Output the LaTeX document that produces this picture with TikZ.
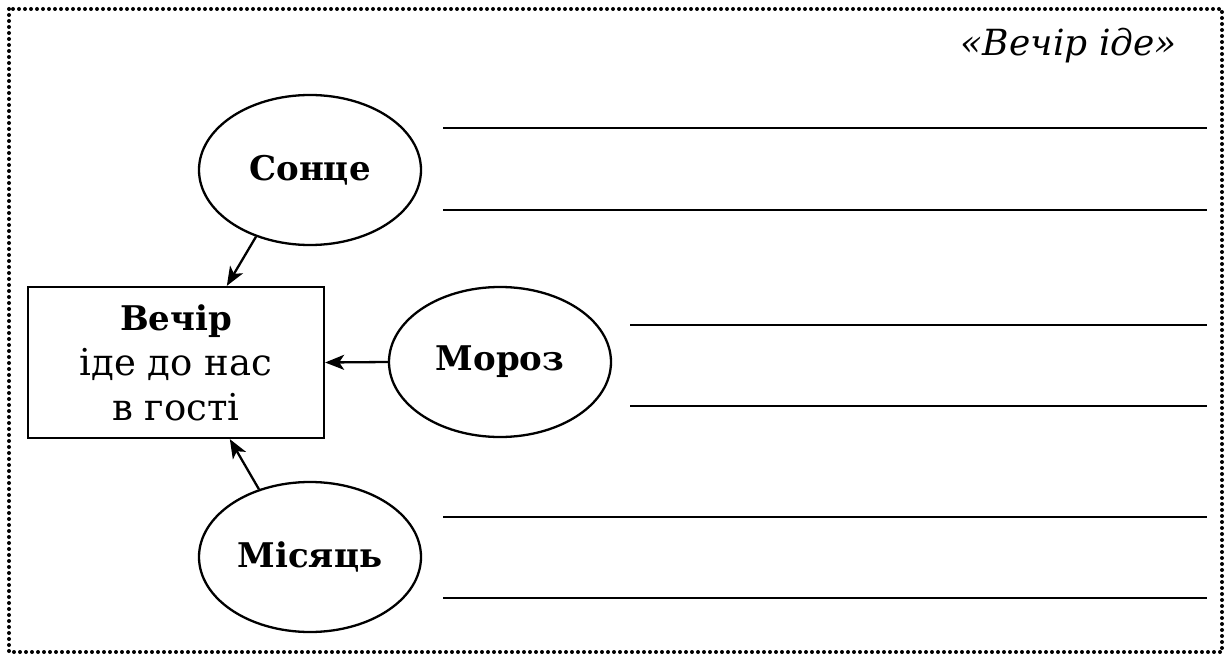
\documentclass[tikz,border=0pt]{standalone}
\usepackage{fontspec}
\setmainfont{DejaVu Serif}
\usetikzlibrary{shapes.geometric,arrows.meta}
\begin{document}
\begin{tikzpicture}[x=1pt,y=-1pt,
  oval/.style={ellipse,draw,line width=2.3pt,minimum width=222pt,minimum height=150pt,inner sep=0pt,font=\fontsize{34}{40}\selectfont\bfseries},
  boxn/.style={rectangle,draw,line width=2.3pt,minimum width=296pt,minimum height=151pt,inner sep=0pt,align=center,font=\fontsize{37}{45}\selectfont},
  arr/.style={line width=2.3pt,-{Stealth[length=19pt,width=15pt,inset=5pt]}},
  wline/.style={line width=2.6pt},
  frame/.style={line width=4pt,line cap=round,dash pattern=on 0pt off 6pt}]
\useasboundingbox (0,0) rectangle (1227,658);
\draw[frame] (9,9) rectangle (1222,652);
\node[font=\fontsize{36}{40}\selectfont\itshape,anchor=base east,inner sep=0pt] (title) at (1177,56) {«Вечір іде»};
\node[oval] (sonce) at (310,170) {Сонце};
\node[oval] (moroz) at (500,362) {Мороз};
\node[oval] (misyac) at (310,557) {Місяць};
\node[boxn] (vechir) at (176,362.5) {{\fontsize{34}{45}\selectfont\bfseries Вечір}\\іде до нас\\в гості};
\draw[arr] (sonce.231) -- ([xshift=200pt]vechir.north west);
\draw[arr] (moroz.west) -- (vechir.east);
\draw[arr] (misyac.127) -- ([xshift=203pt]vechir.south west);
\coordinate (l1a) at (443,128); \coordinate (l1b) at (1207,128);
\coordinate (l2a) at (443,210); \coordinate (l2b) at (1207,210);
\coordinate (l3a) at (630,325); \coordinate (l3b) at (1207,325);
\coordinate (l4a) at (630,406); \coordinate (l4b) at (1207,406);
\coordinate (l5a) at (443,517); \coordinate (l5b) at (1207,517);
\coordinate (l6a) at (443,598); \coordinate (l6b) at (1207,598);
\draw[wline] (l1a) -- (l1b);
\draw[wline] (l2a) -- (l2b);
\draw[wline] (l3a) -- (l3b);
\draw[wline] (l4a) -- (l4b);
\draw[wline] (l5a) -- (l5b);
\draw[wline] (l6a) -- (l6b);
\end{tikzpicture}
\end{document}
